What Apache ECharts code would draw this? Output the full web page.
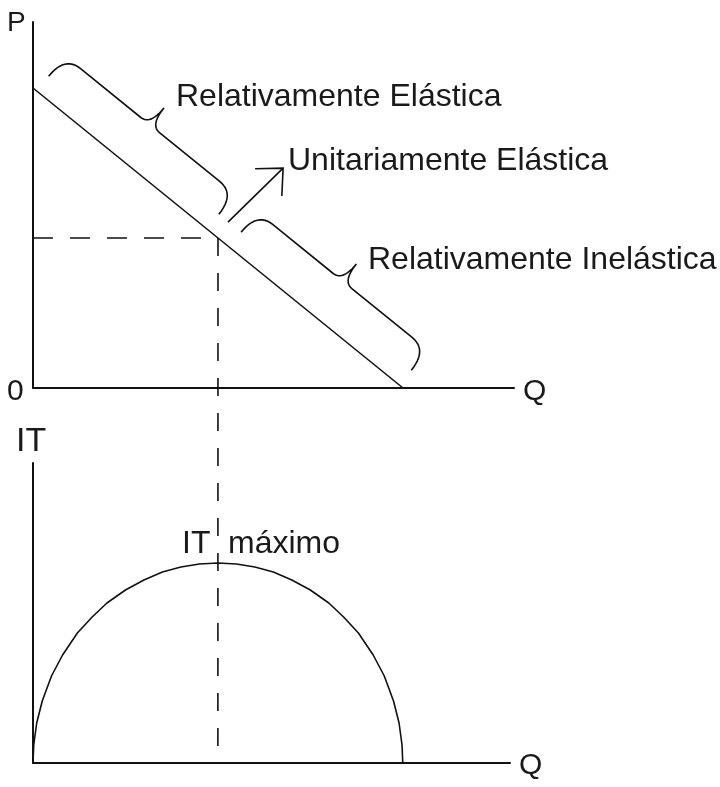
<!DOCTYPE html>
<html>
<head>
<meta charset="utf-8">
<script src="https://cdn.jsdelivr.net/npm/echarts@6/dist/echarts.min.js"></script>
<style>
  html, body { margin: 0; padding: 0; background: #fff; }
  #chart { width: 720px; height: 787px; }
</style>
</head>
<body>
<div id="chart"></div>
<script>
// demand curve, top panel (P against Q)
var demandQ = [0, 10];
var demandP = [10, 0];

// point of unit elasticity
var unitQ = 5;
var unitP = 5;

// total revenue, bottom panel (IT against Q)
var itQ = [0, 0.02, 0.1, 0.25, 0.5, 0.8, 1.2, 1.6, 2, 2.5, 3, 3.5, 4, 4.5, 5, 5.5, 6, 6.5, 7, 7.5, 8, 8.4, 8.8, 9.2, 9.5, 9.75, 9.9, 9.98, 10];
var itVal = [0, 0.9, 2, 3.1, 4.35, 5.4, 6.5, 7.3, 8, 8.65, 9.15, 9.55, 9.8, 9.95, 10, 9.95, 9.8, 9.55, 9.15, 8.65, 8, 7.3, 6.5, 5.4, 4.35, 3.1, 2, 0.9, 0];

// braces along the demand line: [Q1, P1, Q2, P2]
var braceElastic = [0.1, 9.9, 4.7, 5.3];
var braceInelastic = [5.3, 4.7, 9.9, 0.1];

// arrow to the "unitaria" label: [Q1, P1, Q2, P2]
var arrowUnit = [5.27, 5.53, 6.76, 7.33];

// texts
var labelElastic = "Relativamente Elástica";
var labelUnit = "Unitariamente Elástica";
var labelInelastic = "Relativamente Inelástica";
var labelMax = ["IT", "máximo"];

var ink = "#111";
var fontName = '"Liberation Sans", Arial, sans-serif';

function zip(xs, ys) {
  return xs.map(function (x, i) { return [x, ys[i]]; });
}

function braceItem(params, api) {
  var a = api.coord([api.value(0), api.value(1)]);
  var b = api.coord([api.value(2), api.value(3)]);
  var dx = b[0] - a[0], dy = b[1] - a[1];
  var len = Math.sqrt(dx * dx + dy * dy);
  var ux = dx / len, uy = dy / len;
  var nx = uy, ny = -ux; // away from the line
  var e = 19, body = 45, tip = 67, r = 20, rt = 12, mid = len / 2;
  var pts = [];
  function at(u, v) {
    return [a[0] + u * ux + v * nx, a[1] + u * uy + v * ny];
  }
  function quad(p0, c, p1) {
    for (var i = 0; i <= 12; i++) {
      var t = i / 12, s = 1 - t;
      pts.push(at(s * s * p0[0] + 2 * s * t * c[0] + t * t * p1[0],
                  s * s * p0[1] + 2 * s * t * c[1] + t * t * p1[1]));
    }
  }
  quad([0, e], [0, body], [r, body]);
  quad([mid - rt, body], [mid, body], [mid, tip]);
  quad([mid, tip], [mid, body], [mid + rt, body]);
  quad([len - r, body], [len, body], [len, e]);
  return {
    type: "polyline",
    shape: { points: pts },
    style: { stroke: ink, lineWidth: 1.6, fill: null }
  };
}

function arrowItem(params, api) {
  var a = api.coord([api.value(0), api.value(1)]);
  var b = api.coord([api.value(2), api.value(3)]);
  var back = Math.atan2(a[1] - b[1], a[0] - b[0]);
  var h = 28, spread = 0.75;
  var p1 = [b[0] + h * Math.cos(back + spread), b[1] + h * Math.sin(back + spread)];
  var p2 = [b[0] + h * Math.cos(back - spread), b[1] + h * Math.sin(back - spread)];
  return {
    type: "group",
    children: [
      { type: "line", shape: { x1: a[0], y1: a[1], x2: b[0], y2: b[1] }, style: { stroke: ink, lineWidth: 1.6 } },
      { type: "polyline", shape: { points: [p1, b, p2] }, style: { stroke: ink, lineWidth: 1.6, fill: null } }
    ]
  };
}

function axis(gridIndex, max) {
  return {
    type: "value",
    gridIndex: gridIndex,
    min: 0,
    max: max,
    axisLine: { show: true, onZero: false, lineStyle: { color: ink, width: 2 } },
    axisTick: { show: false },
    axisLabel: { show: false },
    splitLine: { show: false }
  };
}

function label(text, x, y, size) {
  return {
    type: "text",
    x: x,
    y: y,
    style: { text: text, font: size + "px " + fontName, fill: "#1a1a1a", align: "left", verticalAlign: "middle" }
  };
}

var chart = echarts.init(document.getElementById("chart"));

var option = {
  animation: false,
  grid: [
    { left: 33, top: 22, width: 481, height: 366 },
    { left: 33, top: 463, width: 477, height: 300 }
  ],
  xAxis: [axis(0, 13), axis(1, 12.9)],
  yAxis: [axis(0, 12.2), axis(1, 15)],
  series: [
    {
      type: "line",
      xAxisIndex: 0, yAxisIndex: 0,
      data: zip(demandQ, demandP),
      symbol: "none",
      lineStyle: { color: ink, width: 1.6 }
    },
    {
      type: "line",
      xAxisIndex: 0, yAxisIndex: 0,
      data: [[0, unitP], [unitQ, unitP]],
      symbol: "none",
      lineStyle: { color: ink, width: 1.6, type: [20, 17] }
    },
    {
      type: "custom",
      xAxisIndex: 0, yAxisIndex: 0,
      data: [braceElastic, braceInelastic],
      encode: { x: [0, 2], y: [1, 3] },
      renderItem: braceItem,
      clip: false
    },
    {
      type: "custom",
      xAxisIndex: 0, yAxisIndex: 0,
      data: [arrowUnit],
      encode: { x: [0, 2], y: [1, 3] },
      renderItem: arrowItem,
      clip: false
    },
    {
      type: "line",
      xAxisIndex: 1, yAxisIndex: 1,
      data: zip(itQ, itVal),
      symbol: "none",
      lineStyle: { color: ink, width: 1.6 }
    }
  ]
};

chart.setOption(option);

// dashed guide running from the unit point down to the revenue axis
var pTop = chart.convertToPixel({ gridIndex: 0 }, [unitQ, unitP]);
var pBot = chart.convertToPixel({ gridIndex: 1 }, [unitQ, 0]);

chart.setOption({
  graphic: [
    {
      type: "line",
      shape: { x1: pTop[0], y1: pTop[1], x2: pBot[0], y2: pBot[1] - 8 },
      style: { stroke: ink, lineWidth: 1.6, lineDash: [18, 17] }
    },
    label("P", 7, 23, 28),
    label("0", 7, 392, 30),
    label("Q", 523, 392, 30),
    label("IT", 16, 442, 34),
    label("Q", 519, 766, 30),
    label(labelElastic, 176, 97, 32),
    label(labelUnit, 288, 161, 32),
    label(labelInelastic, 368, 260, 32),
    label(labelMax[0], 182, 544, 32),
    label(labelMax[1], 228, 544, 32)
  ]
});

window.onresize = chart.resize;
</script>
</body>
</html>
